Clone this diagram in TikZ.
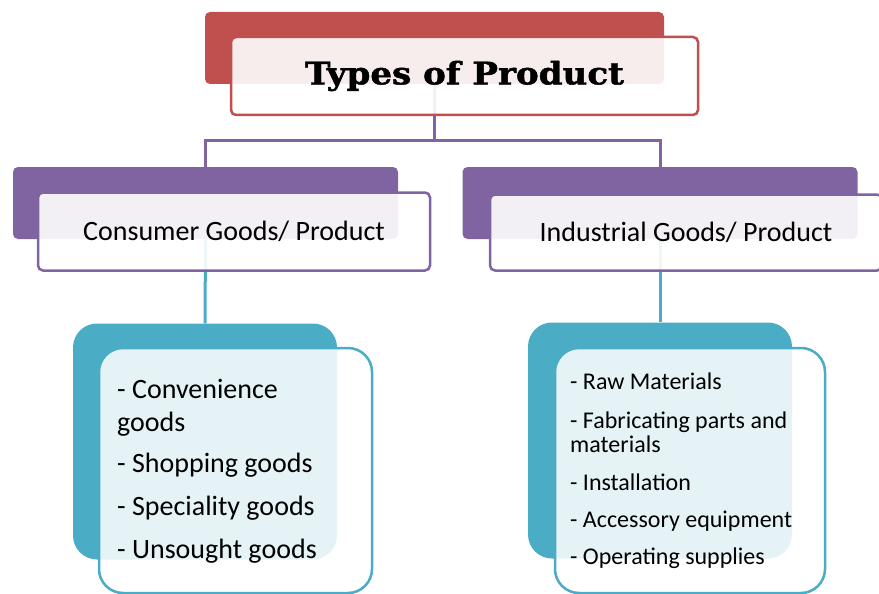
\documentclass[tikz,border=0pt]{standalone}
\usepackage{fontspec}
\setmainfont{Carlito}
\newfontfamily\titlefont[FakeBold=1.5,FakeStretch=1.1]{DejaVu Serif Bold}
\usepackage{tikz}
\usetikzlibrary{positioning}
\definecolor{headred}{HTML}{C0504D}
\definecolor{kindpurple}{HTML}{8064A2}
\definecolor{listteal}{HTML}{4BACC6}

\begin{document}
\begin{tikzpicture}[x=1pt,y=-1pt,
        back/.style={rectangle,rounded corners=5pt,inner sep=0pt,minimum height=72pt},
        front/.style={rectangle,rounded corners=5pt,draw,line width=2.5pt,fill=white,fill opacity=0.9,text opacity=1,inner sep=0pt},
        listback/.style={rectangle,rounded corners=24pt,fill=listteal,inner sep=0pt,minimum width=264pt,minimum height=236pt},
        listfront/.style={rectangle,rounded corners=24pt,draw=listteal,line width=2.5pt,fill=white,fill opacity=0.86,inner sep=0pt,minimum height=245pt},
        link/.style={line width=3pt},
        item/.style={anchor=base west,inner sep=0pt,align=left}]
    \useasboundingbox (0,0) rectangle (879,594);

    \node[back,fill=headred,minimum width=459pt] (tb) at (434.5,48) {};
    \node[back,fill=kindpurple,minimum width=385pt] (cb) at (205.5,203) {};
    \node[back,fill=kindpurple,minimum width=395pt] (ib) at (660,203) {};
    \node[listback] (cl) at (205,441.5) {};
    \node[listback] (il) at (660,440.5) {};

    \coordinate (split) at (tb.south |- 0,140);
    \draw[link,kindpurple] (tb.south) -- (split) -| (cb.north);
    \draw[link,kindpurple] (split) -| (ib.north);
    \draw[link,listteal] (cb.south) -- (cl.north);
    \draw[link,listteal] (ib.south) -- (il.north);

    \node[front,draw=headred,minimum width=467pt,minimum height=78pt] (tf) at (464.5,76)
        {\titlefont\fontsize{31}{31}\selectfont Types of Product};
    \node[front,draw=kindpurple,minimum width=392pt,minimum height=78pt] (cf) at (234,231.5)
        {\fontsize{28}{28}\selectfont Consumer Goods/ Product};
    \node[front,draw=kindpurple,minimum width=392pt,minimum height=76pt] (if) at (686,232.5)
        {\fontsize{28}{28}\selectfont Industrial Goods/ Product};
    \node[listfront,minimum width=273pt] (clf) at (235.5,470.5) {};
    \node[listfront,minimum width=270pt] (ilf) at (690,470.5) {};

    \node[item,font=\fontsize{28}{33}\selectfont] (c1) at (117,431) {- Convenience\\goods};
    \node[item,font=\fontsize{28}{33}\selectfont] (c2) at (117,472) {- Shopping goods};
    \node[item,font=\fontsize{28}{33}\selectfont] (c3) at (117,515) {- Speciality goods};
    \node[item,font=\fontsize{28}{33}\selectfont] (c4) at (117,558) {- Unsought goods};

    \node[item,font=\fontsize{24}{24}\selectfont] (i1) at (570,389) {- Raw Materials};
    \node[item,font=\fontsize{24}{24}\selectfont] (i2) at (570,452) {- Fabricating parts and\\materials};
    \node[item,font=\fontsize{24}{24}\selectfont] (i3) at (570,490) {- Installation};
    \node[item,font=\fontsize{24}{24}\selectfont] (i4) at (570,527) {- Accessory equipment};
    \node[item,font=\fontsize{24}{24}\selectfont] (i5) at (570,564) {- Operating supplies};
\end{tikzpicture}
\end{document}
